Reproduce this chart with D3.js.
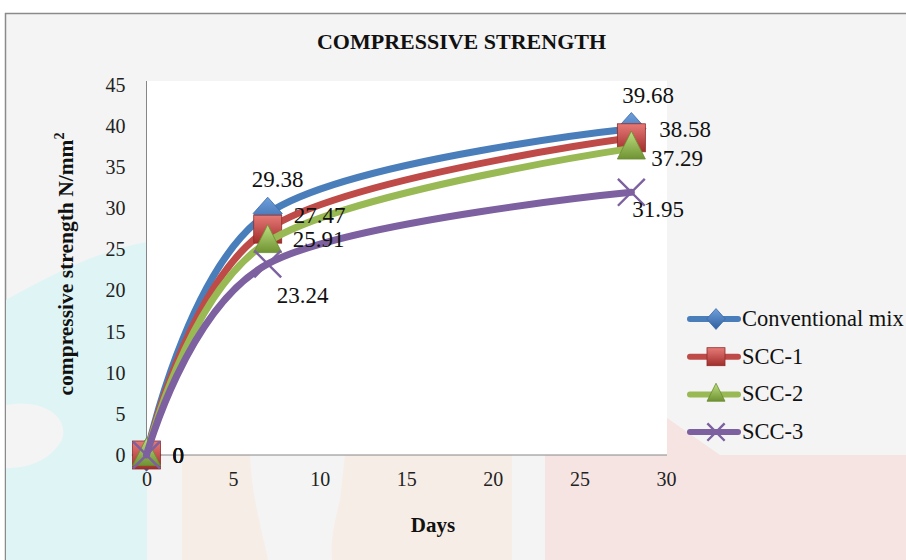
<!DOCTYPE html>
<html><head><meta charset="utf-8">
<script src="https://cdn.jsdelivr.net/npm/d3@7"></script>
<style>body{margin:0;background:#fff}svg{display:block}svg text{font-family:"Liberation Serif","Times New Roman",serif !important}</style>
</head><body><svg id="c" width="906" height="560"></svg>
<script>
const days = [0, 7, 28];
const seriesNames = ["Conventional mix", "SCC-1", "SCC-2", "SCC-3"];
const conventional = [0, 29.38, 39.68];
const scc1 = [0, 27.47, 38.58];
const scc2 = [0, 25.91, 37.29];
const scc3 = [0, 23.24, 31.95];
const xTicks = [0, 5, 10, 15, 20, 25, 30];
const yTicks = [0, 5, 10, 15, 20, 25, 30, 35, 40, 45];
const colors = ["#4a7ebb", "#be4b48", "#98b954", "#7d60a0"];
const markers = ["diamond", "square", "triangle", "x"];
// label offsets (dx, dy from point) for day 7 and day 28, per series
const labelOffsets = [
  [[-16,-26],[-9,-26]],
  [[26,-6],[28,-1]],
  [[25,5],[20,18]],
  [[9,39],[1,25]]
];

const svg = d3.select("#c");
svg.append("rect").attr("x",0).attr("y",0).attr("width",906).attr("height",560).attr("fill","#fff");
svg.append("rect").attr("x",5.5).attr("y",13.5).attr("width",910).attr("height",560).attr("fill","#f4f4f4").attr("stroke","#8a8a8a").attr("stroke-width",1.5);
// faint watermark shapes
const wm = svg.append("g");
wm.append("path").attr("d","M6,300 C50,275 100,250 147,242 L147,560 L6,560 Z").attr("fill","#dff4f5");
wm.append("path").attr("d","M6,405 C40,398 70,415 62,440 C45,468 15,468 6,468 Z").attr("fill","#f4f4f4");
wm.append("rect").attr("x",182).attr("y",455).attr("width",330).attr("height",105).attr("fill","#f6ede6");
wm.append("path").attr("d","M250,455 L345,455 L340,500 C335,520 330,540 332,560 L268,560 C262,530 252,500 250,455 Z").attr("fill","#f4f4f4");
wm.append("rect").attr("x",545).attr("y",455).attr("width",370).attr("height",105).attr("fill","#f6e4e2");
wm.append("path").attr("d","M667,418 L720,455 L667,455 Z").attr("fill","#f6e4e2");

const x = d3.scaleLinear().domain([0,30]).range([146.5,666]);
const y = d3.scaleLinear().domain([0,45]).range([455,85]);

svg.append("rect").attr("x",146.5).attr("y",81).attr("width",520.5).attr("height",374).attr("fill","#fff");

svg.append("text").attr("x",461.5).attr("y",49).attr("text-anchor","middle").attr("font-weight","bold").attr("font-size",22).attr("fill","#111").text("COMPRESSIVE STRENGTH");

const xAxis = d3.axisBottom(x).tickValues(xTicks).tickSize(0).tickPadding(17);
const gx = svg.append("g").attr("transform","translate(0,455)").call(xAxis);
gx.select(".domain").attr("stroke","#868686").attr("d","M146.5,0H667");
gx.selectAll("text").attr("font-size",20).attr("fill","#222");

const yAxis = d3.axisLeft(y).tickValues(yTicks).tickSize(0).tickPadding(21);
const gy = svg.append("g").attr("transform","translate(146.5,0)").call(yAxis);
gy.select(".domain").attr("stroke","#868686").attr("d","M0,81V455");
gy.selectAll("text").attr("font-size",20).attr("fill","#222");

svg.append("text").attr("x",433).attr("y",532).attr("text-anchor","middle").attr("font-weight","bold").attr("font-size",21).attr("fill","#111").text("Days");
const yt = svg.append("text").attr("transform","translate(73,264) rotate(-90)").attr("text-anchor","middle").attr("font-weight","bold").attr("font-size",21.5).attr("fill","#111");
yt.append("tspan").text("compressive strength N/mm");
yt.append("tspan").attr("dy",-9).attr("font-size",14).text("2");

const defs = svg.append("defs");
function grad(id, c1, c2){
  const g = defs.append("linearGradient").attr("id",id).attr("x1",0).attr("y1",0).attr("x2",0).attr("y2",1);
  g.append("stop").attr("offset","0%").attr("stop-color",c1);
  g.append("stop").attr("offset","100%").attr("stop-color",c2);
}
grad("g0","#6fa0dc","#2f5f9e");
grad("g1","#e67a77","#a12e2b");
grad("g2","#bfe082","#6f9232");

function drawMarker(g, type, cx, cy, s, i){
  if(type==="diamond"){
    g.append("path").attr("d",`M${cx},${cy-s*0.58}L${cx+s*0.52},${cy}L${cx},${cy+s*0.58}L${cx-s*0.52},${cy}Z`).attr("fill","url(#g0)").attr("stroke","#3a6aa6").attr("stroke-width",0.8);
  } else if(type==="square"){
    g.append("rect").attr("x",cx-s/2).attr("y",cy-s/2).attr("width",s).attr("height",s).attr("fill","url(#g1)").attr("stroke","#8f2c2a").attr("stroke-width",0.8);
  } else if(type==="triangle"){
    g.append("path").attr("d",`M${cx},${cy-s*0.62}L${cx+s*0.5},${cy+s*0.38}L${cx-s*0.5},${cy+s*0.38}Z`).attr("fill","url(#g2)").attr("stroke","#6a8c30").attr("stroke-width",0.8);
  } else {
    const h = s*0.48;
    g.append("path").attr("d",`M${cx-h},${cy-h}L${cx+h},${cy+h}M${cx-h},${cy+h}L${cx+h},${cy-h}`).attr("stroke",colors[i]).attr("stroke-width",2.4).attr("fill","none");
  }
}

const allSeries = [conventional, scc1, scc2, scc3];
const line = d3.line().x(d=>x(d[0])).y(d=>y(d[1])).curve(d3.curveCardinal.tension(0));

allSeries.forEach((vals,i)=>{
  const pts = days.map((d,k)=>[d, vals[k]]);
  const g = svg.append("g");
  g.append("path").attr("d",line(pts)).attr("fill","none").attr("stroke",colors[i]).attr("stroke-width",7).attr("stroke-linecap","round");
  pts.forEach(p=> drawMarker(g, markers[i], x(p[0]), y(p[1]), 28, i));
});

const lg = svg.append("g").attr("font-size",23).attr("fill","#111");
allSeries.forEach((vals,i)=>{
  days.forEach((d,k)=>{
    const px = x(d), py = y(vals[k]);
    const t = lg.append("text").text(vals[k]).attr("text-anchor","start");
    if(k===0){ t.attr("x",px+26).attr("y",py+8); return; }
    const o = labelOffsets[i][k-1];
    t.attr("x",px+o[0]).attr("y",py+o[1]);
  });
});

const leg = svg.append("g");
seriesNames.forEach((n,i)=>{
  const yy = 319 + i*37.7;
  leg.append("line").attr("x1",690).attr("x2",738).attr("y1",yy).attr("y2",yy).attr("stroke",colors[i]).attr("stroke-width",6).attr("stroke-linecap","round");
  drawMarker(leg, markers[i], 716, yy, 18, i);
  leg.append("text").attr("x",742).attr("y",yy+7).attr("font-size",22.5).attr("fill","#111").text(n);
});
</script></body></html>
